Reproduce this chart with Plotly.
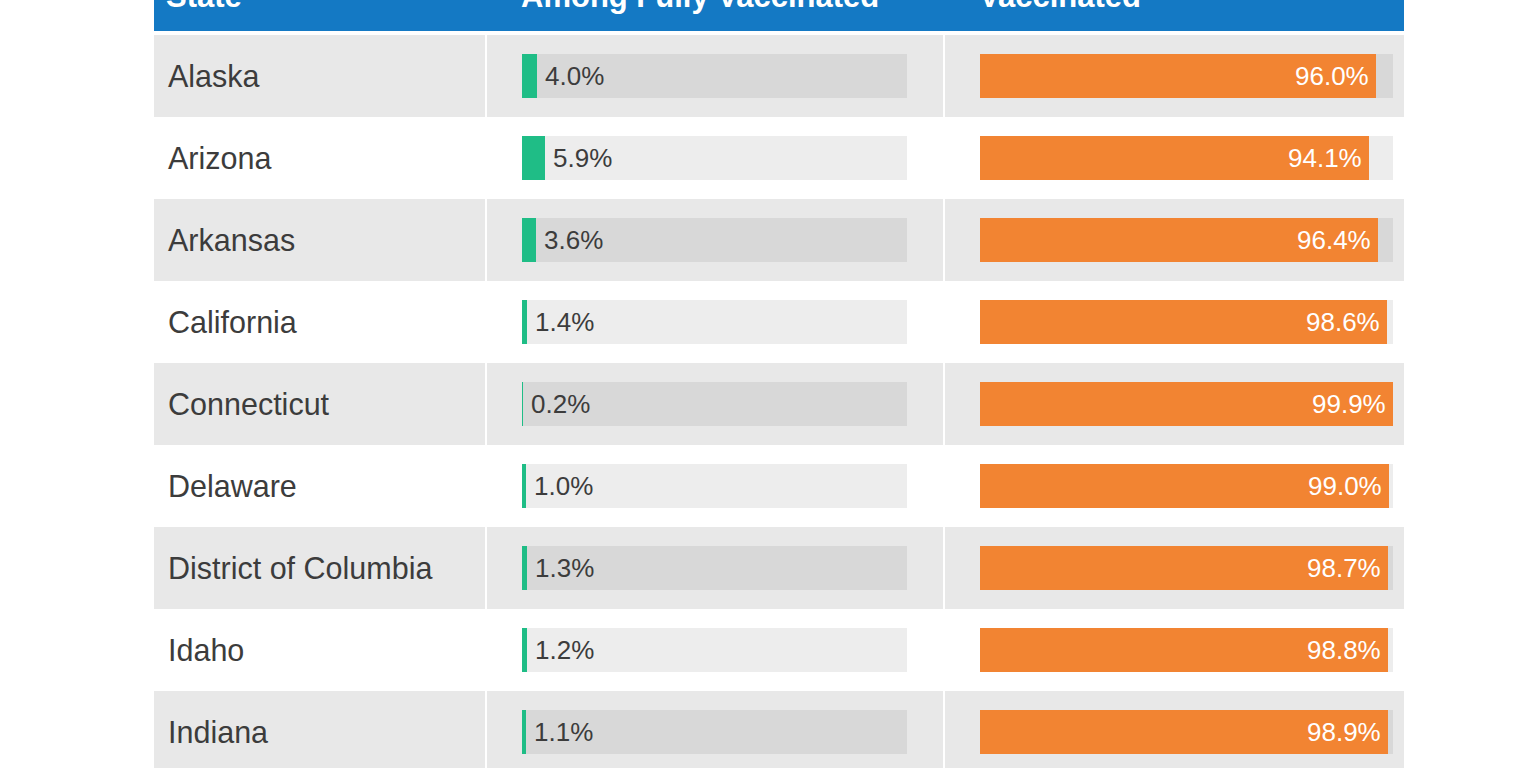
import plotly.graph_objects as go

states = ["Alaska", "Arizona", "Arkansas", "California", "Connecticut",
          "Delaware", "District of Columbia", "Idaho", "Indiana"]
among_vax = [4.0, 5.9, 3.6, 1.4, 0.2, 1.0, 1.3, 1.2, 1.1]
not_vax = [96.0, 94.1, 96.4, 98.6, 99.9, 99.0, 98.7, 98.8, 98.9]
headers = ["State", "Among Fully Vaccinated", "Vaccinated"]

W, H = 1536, 768
BLUE = "#1479C4"
GREEN = "#1FBD86"
ORANGE = "#F28432"
ROW_GRAY = "#E8E8E8"
TRACK_ON_GRAY = "#D8D8D8"
TRACK_ON_WHITE = "#EDEDED"
TXT = "#3C3C3C"
FONT = "Liberation Sans, Arial, sans-serif"

n = len(states)
ys = list(range(n))
px = lambda p: p / W

# row geometry (in row units; 1 row = 82 px)
row_px = 82.0
first_center = 76.0
y_top = -first_center / row_px
y_bot = (H - first_center) / row_px
bar_w = 44 / row_px

track_colors = [TRACK_ON_GRAY if i % 2 == 0 else TRACK_ON_WHITE for i in ys]

fig = go.Figure()
# green column
fig.add_trace(go.Bar(y=ys, x=[100] * n, orientation="h", xaxis="x2", yaxis="y",
                     marker=dict(color=track_colors, line=dict(width=0)), width=bar_w,
                     hoverinfo="skip", showlegend=False))
fig.add_trace(go.Bar(y=ys, x=among_vax, orientation="h", xaxis="x2", yaxis="y",
                     marker=dict(color=GREEN, line=dict(width=0)), width=bar_w,
                     showlegend=False))
# orange column
fig.add_trace(go.Bar(y=ys, x=[100] * n, orientation="h", xaxis="x3", yaxis="y",
                     marker=dict(color=track_colors, line=dict(width=0)), width=bar_w,
                     hoverinfo="skip", showlegend=False))
fig.add_trace(go.Bar(y=ys, x=not_vax, orientation="h", xaxis="x3", yaxis="y",
                     marker=dict(color=ORANGE, line=dict(width=0)), width=bar_w,
                     showlegend=False))

shapes = []
# header band
shapes.append(dict(type="rect", xref="paper", yref="y", x0=px(154), x1=px(1404),
                   y0=y_top - 1, y1=(31 - first_center) / row_px,
                   fillcolor=BLUE, line=dict(width=0), layer="below"))
# gray rows, split into three cells
cells = [(154, 485), (487, 943), (945, 1404)]
for i in ys:
    if i % 2 == 0:
        for a, b in cells:
            shapes.append(dict(type="rect", xref="paper", yref="y", x0=px(a), x1=px(b),
                               y0=i - 0.5, y1=i + 0.5, fillcolor=ROW_GRAY,
                               line=dict(width=0), layer="below"))

annotations = []
head_x = [164, 519, 977]
for hx, t in zip(head_x, headers):
    annotations.append(dict(text="<b>" + t + "</b>", xref="paper", yref="paper",
                            x=px(hx), y=1 + 4 / H, xanchor="left", yanchor="middle",
                            showarrow=False, font=dict(family=FONT, size=31, color="white")))
for i, s in enumerate(states):
    annotations.append(dict(text=s, xref="paper", yref="y", x=px(166), y=i,
                            xanchor="left", yanchor="middle", showarrow=False,
                            font=dict(family=FONT, size=30.5, color=TXT)))
    annotations.append(dict(text=f"{among_vax[i]:.1f}%", xref="x2", yref="y",
                            x=among_vax[i], y=i, xanchor="left", yanchor="middle",
                            xshift=6, showarrow=False,
                            font=dict(family=FONT, size=26, color=TXT)))
    annotations.append(dict(text=f"{not_vax[i]:.1f}%", xref="x3", yref="y",
                            x=not_vax[i], y=i, xanchor="right", yanchor="middle",
                            xshift=-5, showarrow=False,
                            font=dict(family=FONT, size=26, color="white")))

hidden = dict(showgrid=False, zeroline=False, showticklabels=False, showline=False,
              ticks="", fixedrange=True)
fig.update_layout(
    width=W, height=H, margin=dict(l=0, r=0, t=0, b=0),
    paper_bgcolor="white", plot_bgcolor="white",
    barmode="overlay", bargap=0,
    xaxis=dict(domain=[0, 1], range=[0, 1], visible=False, **hidden),
    xaxis2=dict(domain=[px(522), px(907)], range=[0, 100], anchor="y", **hidden),
    xaxis3=dict(domain=[px(980), px(1393)], range=[0, 100], anchor="y", **hidden),
    yaxis=dict(domain=[0, 1], range=[y_bot, y_top], autorange=False, **hidden),
    shapes=shapes, annotations=annotations,
)

fig.write_html("out.html", config={"displayModeBar": False},
               post_script="document.body.style.margin='0';document.body.style.overflow='hidden';")
